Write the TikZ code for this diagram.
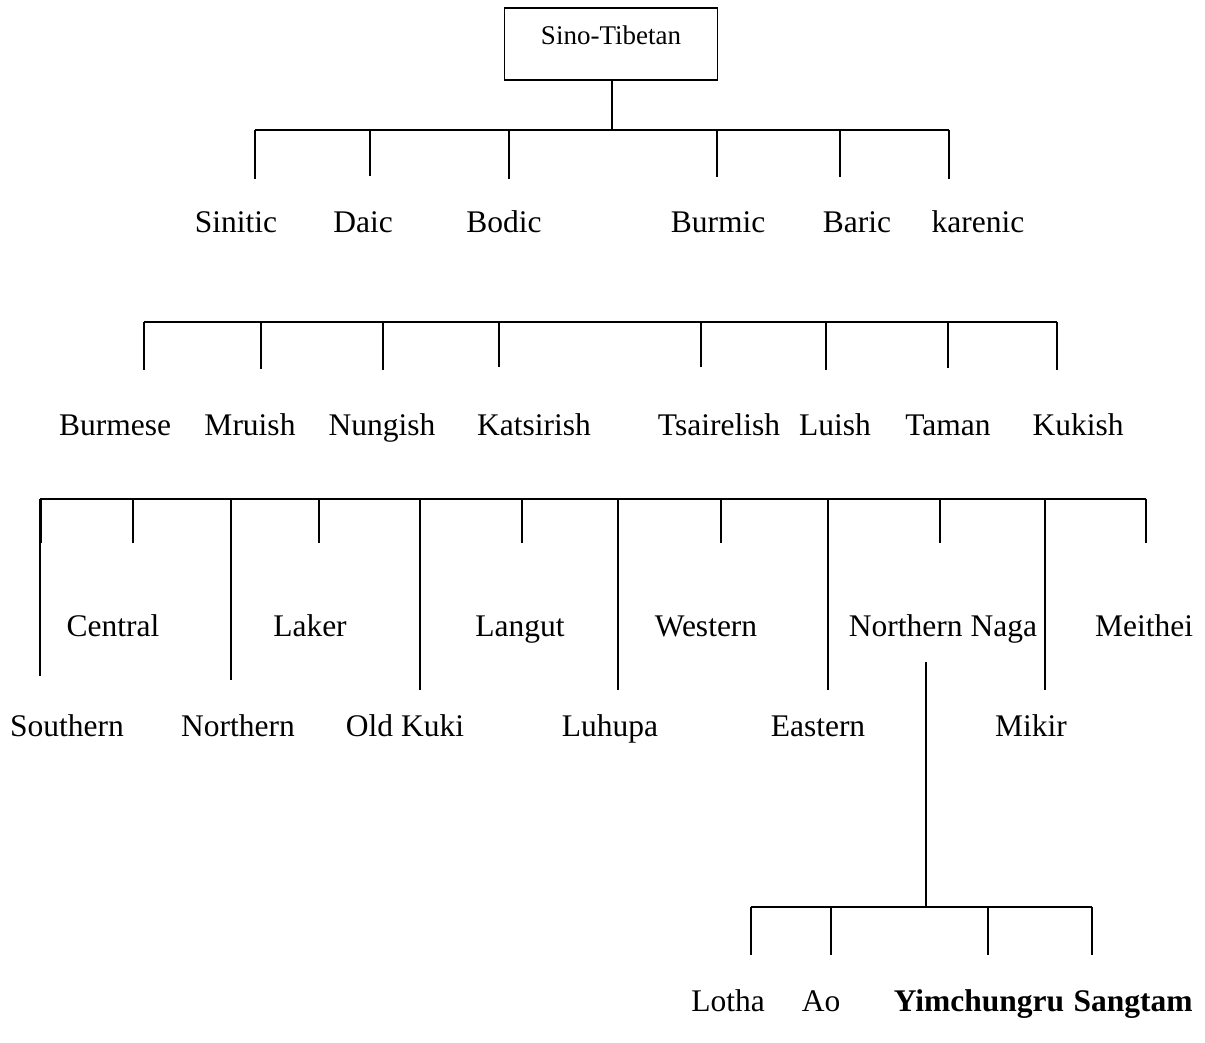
\documentclass[tikz,border=0pt]{standalone}
\usepackage{fontspec}
\setmainfont{Liberation Serif}
\begin{document}
\begin{tikzpicture}[x=1pt,y=-1pt,line width=1.5pt,
  lab/.style={anchor=base,inner sep=0pt,font=\fontsize{31.5}{36}\selectfont},
  blab/.style={lab,font=\fontsize{31.5}{36}\selectfont\bfseries},
  rootbox/.style={draw,minimum width=213pt,minimum height=72pt,inner sep=0pt,
    text height=18pt,text depth=16pt,font=\fontsize{27}{30}\selectfont}]
\useasboundingbox (0,0) rectangle (1205,1043);
% root
\node[rootbox] (root) at (611,44) {Sino-Tibetan};
\coordinate (b1) at (612,130);
\draw (root.south -| b1) -- (b1);
% level 1 bus
\coordinate (b1l) at (255,130);
\coordinate (b1r) at (949,130);
\draw (b1l) -- (b1r);
\foreach \x/\e in {255/179,370/176,509/179,717/177,840/177,949/179}
  \draw (\x,130) -- (\x,\e);
\node[lab] (sinitic) at (236,233) {Sinitic};
\node[lab] (daic) at (363,233) {Daic};
\node[lab] (bodic) at (504,233) {Bodic};
\node[lab] (burmic) at (718,233) {Burmic};
\node[lab] (baric) at (857,233) {Baric};
\node[lab] (karenic) at (978,233) {karenic};
% level 2 bus
\coordinate (b2l) at (144,322);
\coordinate (b2r) at (1057,322);
\draw (b2l) -- (b2r);
\foreach \x/\e in {144/370,261/369,383/370,499/367,701/367,826/370,948/368,1057/370}
  \draw (\x,322) -- (\x,\e);
\node[lab] (burmese) at (115,435) {Burmese};
\node[lab] (mruish) at (250,435) {Mruish};
\node[lab] (nungish) at (382,435) {Nungish};
\node[lab] (katsirish) at (534,435) {Katsirish};
\node[lab] (tsairelish) at (719,435) {Tsairelish};
\node[lab] (luish) at (835,435) {Luish};
\node[lab] (taman) at (948,435) {Taman};
\node[lab] (kukish) at (1078,435) {Kukish};
% level 3 bus
\coordinate (b3l) at (40,499);
\coordinate (b3r) at (1146,499);
\draw (b3l) -- (b3r);
\draw (41.5,499) -- (41.5,543);
\foreach \x/\e in {40/676,133/543,231/680,319/543,420/690,522/543,618/690,721/543,828/690,940/543,1045/690,1146/543}
  \draw (\x,499) -- (\x,\e);
\node[lab] (central) at (113,636) {Central};
\node[lab] (laker) at (310,636) {Laker};
\node[lab] (langut) at (520,636) {Langut};
\node[lab] (western) at (706,636) {Western};
\node[lab] (nnaga) at (943,636) {Northern Naga};
\node[lab] (meithei) at (1144,636) {Meithei};
\node[lab] (southern) at (67,736) {Southern};
\node[lab] (northern) at (238,736) {Northern};
\node[lab] (oldkuki) at (405,736) {Old Kuki};
\node[lab] (luhupa) at (610,736) {Luhupa};
\node[lab] (eastern) at (818,736) {Eastern};
\node[lab] (mikir) at (1031,736) {Mikir};
% northern naga subtree
\coordinate (n1) at (926,662);
\coordinate (n2) at (926,907);
\draw (n1) -- (n2);
\coordinate (b4l) at (751,907);
\coordinate (b4r) at (1092,907);
\draw (b4l) -- (b4r);
\foreach \x in {751,831,988,1092}
  \draw (\x,907) -- (\x,955);
\node[lab] (lotha) at (728,1011) {Lotha};
\node[lab] (ao) at (821,1011) {Ao};
\node[blab,anchor=base west] (yimchungru) at (893,1011) {Yimchungru};
\node[blab,anchor=base west] (sangtam) at ([xshift=7.9pt]yimchungru.base east) {Sangtam};
\end{tikzpicture}
\end{document}
